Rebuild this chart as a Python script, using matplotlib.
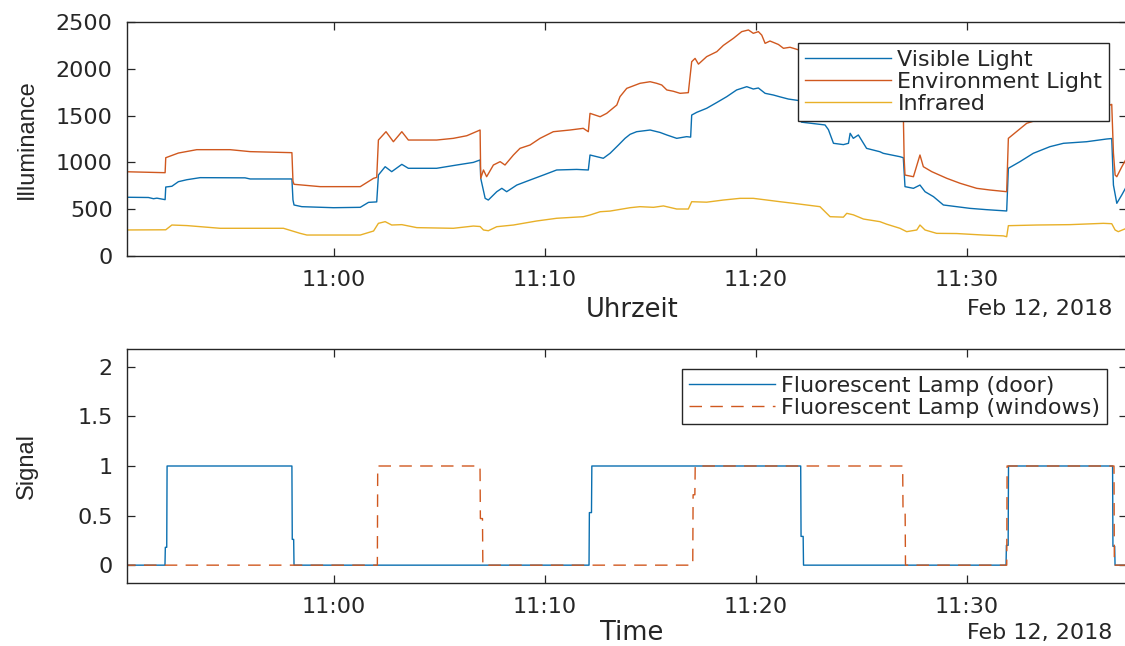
import matplotlib
matplotlib.use("Agg")
import matplotlib.pyplot as plt
import matplotlib.dates as mdates
import pandas as pd

# minutes after 10:50 on Feb 12, 2018 and illuminance values
vis_min = [0.0, 1.2, 1.44, 1.6, 1.99, 2.02, 2.31, 2.62, 3.02, 3.65, 5.78, 6.02, 8.0, 8.05, 8.10,
           8.47, 9.97, 11.24, 11.63, 12.02, 12.10, 12.42, 12.73, 13.21, 13.52, 14.86, 15.81,
           16.6, 16.92, 16.95, 17.16, 17.31, 17.71, 17.95, 18.18, 18.66, 19.29, 19.92, 20.55,
           21.5, 22.05, 22.13, 22.76, 23.08, 23.48, 23.79, 24.03, 24.34, 24.98, 25.45, 25.77,
           26.24, 26.71, 26.90, 26.95, 27.19, 27.66, 28.14, 28.61, 29.08, 29.56, 29.87, 30.11,
           30.43, 30.82, 31.14, 31.53, 32.05, 32.15, 33.27, 33.43, 33.67, 34.14, 34.38, 34.46,
           34.61, 34.85, 35.24, 35.87, 36.03, 36.82, 36.98, 37.06, 37.46, 37.77, 38.01, 38.41,
           38.88, 39.51, 40.14, 40.93, 41.88, 41.96, 42.51, 43.14, 43.93, 44.57, 45.67, 46.62,
           46.86, 46.94, 47.10, 47.33, 47.6]
visible = [628, 625, 612, 618, 602, 737, 745, 794, 815, 837, 835, 823, 823, 600, 545,
           527, 516, 520, 573, 578, 865, 954, 901, 979, 937, 937, 972,
           1000, 1026, 830, 616, 598, 687, 723, 687, 758, 812, 865, 919,
           925, 919, 1079, 1044, 1097, 1186, 1257, 1300, 1328, 1346, 1320, 1293,
           1257, 1275, 1270, 1506, 1535, 1578, 1640, 1702, 1774, 1809, 1784, 1795,
           1738, 1720, 1700, 1677, 1660, 1430, 1400, 1350, 1204, 1190, 1204, 1311,
           1257, 1293, 1150, 1114, 1097, 1061, 1050, 741, 723, 758, 687, 634,
           545, 527, 509, 495, 481, 937, 1008, 1097, 1168, 1204, 1221, 1250,
           1255, 758, 563, 650, 760]

env_min = [0.0, 1.99, 2.02, 2.62, 3.49, 5.07, 6.02, 8.0, 8.05, 8.10, 9.34, 11.24, 11.87, 12.02,
           12.10, 12.46, 12.81, 13.21, 13.52, 14.86, 15.65, 16.29, 16.92, 16.95, 17.08, 17.23,
           17.55, 17.87, 18.10, 18.50, 18.81, 19.29, 19.76, 20.39, 21.18, 21.81, 22.05, 22.13,
           22.61, 22.92, 23.40, 23.55, 23.87, 24.50, 24.98, 25.29, 25.53, 25.77, 26.08, 26.40,
           26.79, 26.95, 27.11, 27.27, 27.66, 28.14, 28.45, 28.93, 29.32, 29.64, 29.87, 30.11,
           30.27, 30.43, 30.66, 31.06, 31.30, 31.61, 32.05, 32.15, 33.40, 33.60, 35.0, 36.98,
           37.02, 37.06, 37.46, 37.77, 37.93, 38.33, 39.04, 39.67, 40.46, 41.09, 41.88, 41.96,
           42.83, 44.0, 45.5, 46.78, 46.86, 46.94, 47.02, 47.10, 47.33, 47.6]
environment = [901, 890, 1050, 1100, 1136, 1136, 1115, 1104, 800, 766, 741, 741, 830, 840,
               1239, 1328, 1221, 1328, 1239, 1239, 1257, 1285, 1346, 830, 919, 847,
               972, 1008, 972, 1079, 1150, 1186, 1257, 1328, 1346, 1364, 1328, 1524,
               1488, 1524, 1613, 1702, 1791, 1845, 1862, 1845, 1827, 1774, 1760, 1738,
               1745, 2076, 2111, 2050, 2130, 2183, 2250, 2326, 2397, 2415, 2379, 2397,
               2360, 2272, 2297, 2260, 2219, 2230, 2200, 1880, 1820, 1650, 1600, 1520,
               1044, 865, 847, 1079, 954, 901, 830, 777, 723, 705, 687, 1257,
               1418, 1500, 1570, 1613, 1620, 1100, 865, 847, 950, 1060]

ir_min = [0.0, 2.02, 2.31, 3.02, 4.6, 7.6, 8.39, 8.71, 11.24, 11.87, 12.10, 12.42, 12.73, 13.21,
          13.92, 15.65, 16.60, 16.92, 17.08, 17.31, 17.71, 18.50, 19.60, 20.55, 21.81, 22.13,
          22.61, 23.08, 24.03, 24.50, 25.14, 25.61, 26.24, 26.79, 26.95, 27.66, 28.45, 29.24,
          29.87, 30.51, 31.14, 31.77, 32.40, 33.03, 33.51, 34.14, 34.30, 34.61, 35.09, 35.87,
          36.19, 36.82, 37.14, 37.62, 37.77, 38.01, 38.56, 39.51, 40.77, 41.72, 41.88, 41.96,
          43.30, 44.88, 46.46, 46.86, 47.02, 47.17, 47.6]
infrared = [278, 280, 331, 325, 296, 296, 242, 224, 224, 267, 349, 367, 331, 335,
            303, 296, 320, 315, 278, 270, 313, 331, 374, 403, 420, 438,
            473, 480, 516, 527, 520, 535, 502, 502, 580, 575, 598, 616,
            616, 598, 580, 563, 545, 527, 420, 415, 456, 440, 395, 367,
            340, 296, 260, 278, 331, 278, 242, 240, 224, 215, 206, 324,
            331, 335, 349, 345, 278, 260, 300]

# lamp switching signals (clock time, value)
door_time = ["10:50:00", "10:51:59", "10:52:00", "10:52:04", "10:52:05", "10:58:00", "10:58:01",
             "10:58:05", "10:58:06", "11:12:05", "11:12:06", "11:12:12", "11:12:13", "11:22:07",
             "11:22:08", "11:22:14", "11:22:15", "11:31:51", "11:31:52", "11:31:57", "11:31:58",
             "11:36:54", "11:36:55", "11:37:00", "11:37:01", "11:37:40"]
door = [0, 0, 0.18, 0.18, 1, 1, 0.26, 0.26, 0, 0, 0.53, 0.53, 1, 1,
        0.29, 0.29, 0, 0, 0.2, 0.2, 1, 1, 0.19, 0.19, 0, 0]
win_time = ["10:50:00", "11:02:03", "11:02:04", "11:06:55", "11:06:56", "11:07:02", "11:07:03",
            "11:17:00", "11:17:01", "11:17:06", "11:17:07", "11:26:57", "11:26:58", "11:27:04",
            "11:27:05", "11:31:53", "11:31:54", "11:36:58", "11:36:59", "11:37:40"]
windows = [0, 0, 1, 1, 0.47, 0.47, 0, 0, 0.71, 0.71, 1, 1, 0.55, 0.55,
           0, 0, 1, 1, 0, 0]

top_labels = ["Visible Light", "Environment Light", "Infrared"]
bottom_labels = ["Fluorescent Lamp (door)", "Fluorescent Lamp (windows)"]
colors = ["#0a6fb0", "#d0581f", "#e8b028"]

day = pd.Timestamp("2018-02-12")
t0 = pd.Timestamp("2018-02-12 10:50:00")


def to_time(minutes):
    return t0 + pd.to_timedelta(minutes, unit="min")


def clock(strings):
    return [day + pd.Timedelta(s) for s in strings]


txt = "#262626"
plt.rcParams['font.family'] = ['DejaVu Sans']

fig = plt.figure(figsize=(11.25, 6.46), dpi=100)
W, H = 1125, 646
ax1 = fig.add_axes([127 / W, (H - 256) / H, 1000 / W, 234 / H])
ax2 = fig.add_axes([127 / W, (H - 583) / H, 1000 / W, 234 / H])

lw = 1.0
ax1.plot(to_time(vis_min), visible, color=colors[0], lw=lw, label=top_labels[0])
ax1.plot(to_time(env_min), environment, color=colors[1], lw=lw, label=top_labels[1])
ax1.plot(to_time(ir_min), infrared, color=colors[2], lw=lw, label=top_labels[2])
ax1.set_ylim(0, 2500)
ax1.set_yticks([0, 500, 1000, 1500, 2000, 2500])

ax2.plot(clock(door_time), door, color=colors[0], lw=lw, label=bottom_labels[0])
ax2.plot(clock(win_time), windows, color=colors[1], lw=lw, dashes=(9, 6), label=bottom_labels[1])
ax2.set_ylim(-0.18, 2.18)
ax2.set_yticks([0, 0.5, 1, 1.5, 2])
ax2.set_yticklabels(["0", "0.5", "1", "1.5", "2"])

xmin = pd.Timestamp("2018-02-12 10:50:11")
xmax = pd.Timestamp("2018-02-12 11:37:35")
label_font = ['Liberation Sans', 'DejaVu Sans']

for ax in (ax1, ax2):
    ax.set_xlim(xmin, xmax)
    ax.xaxis.set_major_locator(mdates.MinuteLocator(byminute=[0, 10, 20, 30, 40, 50]))
    ax.xaxis.set_major_formatter(mdates.DateFormatter('%H:%M'))
    ax.tick_params(direction='in', top=True, right=True, length=5.5, width=0.9,
                   color=txt, labelcolor=txt, labelsize=16, pad=10.3)
    for sp in ax.spines.values():
        sp.set_color(txt)
        sp.set_linewidth(1.0)

ax1.text(0.985, -0.225, "Feb 12, 2018", transform=ax1.transAxes, ha='right', va='center',
         fontsize=16, color=txt)
ax2.text(0.985, -0.213, "Feb 12, 2018", transform=ax2.transAxes, ha='right', va='center',
         fontsize=16, color=txt)

ax1.set_xlabel("Uhrzeit", fontsize=18.5, color=txt)
ax2.set_xlabel("Time", fontsize=18.5, color=txt)
ax1.set_ylabel("Illuminance", fontsize=17, color=txt, family=label_font)
ax2.set_ylabel("Signal", fontsize=17, color=txt, family=label_font)
for ax, ly in ((ax1, -0.232), (ax2, -0.213)):
    ax.xaxis.label.set_va('center')
    ax.xaxis.set_label_coords(0.505, ly)
    ax.yaxis.label.set_va('center')
    ax.yaxis.set_label_coords(-0.100, 0.5)

leg_kw = dict(loc='upper right', borderaxespad=0, fancybox=False, framealpha=1,
              edgecolor=txt, fontsize=16, handlelength=3.9, handletextpad=0.27,
              borderpad=0.3, labelspacing=0.1)
l1 = ax1.legend(bbox_to_anchor=(0.982, 0.910), **leg_kw)
l2 = ax2.legend(bbox_to_anchor=(0.980, 0.915), **leg_kw)
for lg in (l1, l2):
    lg.get_frame().set_linewidth(1.0)
    for t in lg.get_texts():
        t.set_color(txt)

fig.savefig("out.png", dpi=100)
